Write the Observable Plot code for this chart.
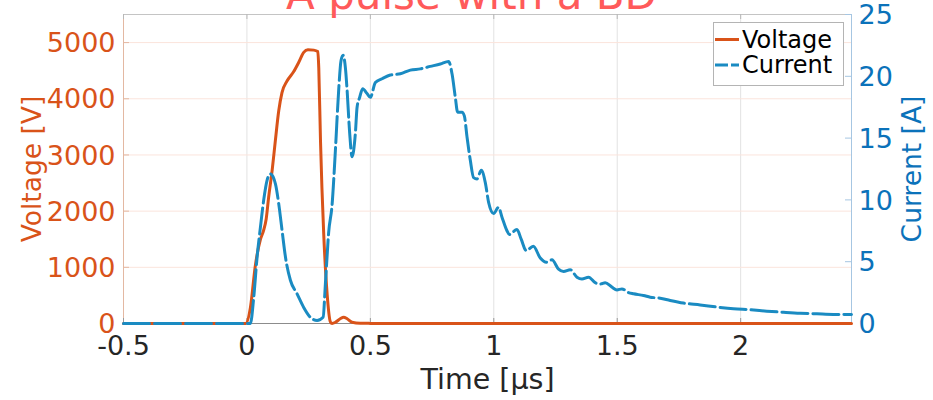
<!DOCTYPE html>
<html>
<head>
<meta charset="utf-8">
<script src="https://cdn.jsdelivr.net/npm/d3@7"></script>
<script src="https://cdn.jsdelivr.net/npm/@observablehq/plot@0.6"></script>
<style>
  html, body { margin: 0; padding: 0; background: #fff; }
  #wrap { position: relative; width: 933px; height: 400px; overflow: hidden; font-family: "DejaVu Sans", sans-serif; }
  #legend { position: absolute; left: 713px; top: 22px; }
</style>
</head>
<body>
<div id="wrap">
  <div id="chart"></div>
  <svg id="legend" width="131" height="64">
    <rect x="0.5" y="0.5" width="130" height="63" fill="#fff" stroke="#b4b4b4" stroke-width="1"></rect>
    <line x1="2" x2="26" y1="17.5" y2="17.5" stroke="#D95319" stroke-width="3"></line>
    <line x1="2" x2="26" y1="43" y2="43" stroke="#1a8bc2" stroke-width="3" stroke-dasharray="13,3"></line>
    <text x="29" y="25.5" font-size="24" font-family="DejaVu Sans, sans-serif" fill="#000">Voltage</text>
    <text x="29" y="51" font-size="24" font-family="DejaVu Sans, sans-serif" fill="#000">Current</text>
  </svg>
</div>
<script>
// ---- data ----
const xTicks = [-0.5, 0, 0.5, 1, 1.5, 2];
const xTickLabels = ["-0.5", "0", "0.5", "1", "1.5", "2"];
const vTicks = [0, 1000, 2000, 3000, 4000, 5000];
const iTicks = [0, 5, 10, 15, 20, 25];

// Voltage [V] vs time [us]
const timeV = [-0.5, -0.005, 0.014, 0.034, 0.055, 0.067, 0.078, 0.088, 0.102, 0.115, 0.129, 0.142, 0.163, 0.189, 0.210, 0.230, 0.247, 0.271, 0.287, 0.291, 0.298, 0.311, 0.325, 0.338, 0.345, 0.358, 0.378, 0.392, 0.406, 0.426, 0.459, 0.486, 0.50, 2.449];
const voltage = [0, 0, 280, 1030, 1500, 1650, 1860, 2250, 2720, 3250, 3790, 4110, 4320, 4480, 4650, 4826, 4874, 4866, 4840, 4550, 3250, 1600, 520, 30, 0, 20, 84, 112, 84, 23, 6, 5, 0, 0];

// Current [A] vs time [us]
const timeI = [-0.5, 0.0, 0.014, 0.0275, 0.0413, 0.0547, 0.068, 0.0818, 0.0951, 0.1154, 0.1287, 0.1425, 0.1559, 0.1761, 0.2032, 0.23, 0.2571, 0.2842, 0.3085, 0.3178, 0.3312, 0.3449, 0.3583, 0.3717, 0.3814, 0.3895, 0.3988, 0.4057, 0.4162, 0.4259, 0.4393, 0.4462, 0.4567, 0.4688, 0.4866, 0.50, 0.5202, 0.5474, 0.581, 0.6215, 0.6619, 0.7024, 0.7429, 0.7834, 0.817, 0.8308, 0.8441, 0.8534, 0.8713, 0.8806, 0.8915, 0.9049, 0.9182, 0.932, 0.9494, 0.9656, 0.979, 0.9992, 1.0194, 1.0332, 1.0534, 1.0628, 1.0939, 1.1113, 1.1316, 1.16, 1.1883, 1.2126, 1.2356, 1.2623, 1.2826, 1.3097, 1.3368, 1.3571, 1.3838, 1.4109, 1.4312, 1.4514, 1.4785, 1.4988, 1.519, 1.5457, 1.566, 1.6065, 1.6336, 1.674, 1.7146, 1.7684, 1.836, 1.9036, 1.9709, 2.0385, 2.106, 2.1733, 2.2409, 2.3085, 2.3757, 2.449];
const current = [0, 0, 0, 2.1, 5.4, 7.8, 10.0, 11.6, 12.1, 11.3, 9.7, 7.5, 5.4, 3.5, 2.4, 1.3, 0.5, 0.24, 0.5, 3.2, 7.4, 9.6, 14.0, 18.9, 21.3, 21.7, 20.7, 18.9, 15.4, 13.5, 15.4, 17.5, 18.3, 19.0, 18.6, 18.3, 19.5, 19.8, 20.1, 20.2, 20.5, 20.6, 20.8, 21.0, 21.2, 20.2, 18.3, 17.1, 17.1, 16.8, 15.1, 13.2, 11.8, 11.7, 12.4, 11.4, 9.8, 8.9, 9.4, 8.6, 7.5, 7.2, 7.6, 6.8, 5.9, 6.25, 5.3, 4.96, 5.15, 4.4, 4.2, 4.35, 3.75, 3.6, 3.75, 3.3, 3.2, 3.3, 2.94, 2.72, 2.8, 2.5, 2.4, 2.27, 2.13, 2.05, 1.86, 1.65, 1.5, 1.33, 1.19, 1.11, 1.0, 0.91, 0.83, 0.78, 0.73, 0.72];

// ---- chart ----
const orange = "#D95319", blue = "#1a8bc2", blueText = "#0b72ba";
const vMax = 5500, iMax = 25, k = vMax / iMax;
const vData = timeV.map((t, i) => ({t, v: voltage[i]}));
const iData = timeI.map((t, i) => ({t, c: current[i]}));
const innerW = 933 - 123 - 82, innerH = 400 - 14 - 77;

const chart = Plot.plot({
  width: 933, height: 400,
  marginLeft: 123, marginRight: 82, marginTop: 14, marginBottom: 77,
  style: {fontFamily: "'DejaVu Sans', sans-serif", background: "transparent", overflow: "visible"},
  x: {domain: [-0.5, 2.449]},
  y: {domain: [0, vMax]},
  marks: [
    Plot.gridX(xTicks.slice(1), {stroke: "#e2e2e2", strokeOpacity: 1}),
    Plot.gridY(vTicks.slice(1), {stroke: "#fbe4dc", strokeOpacity: 1}),
    Plot.ruleY([vMax], {stroke: "#c4c4c4"}),
    Plot.ruleY([0], {stroke: "#8c8c8c"}),
    Plot.ruleX([-0.5], {stroke: "#e3b8a2"}),
    Plot.ruleX([2.449], {stroke: "#a6c6e2"}),
    Plot.tickX(xTicks, {x: d => d, stroke: "#9a9a9a", insetTop: innerH - 5}),
    Plot.tickX(xTicks, {x: d => d, stroke: "#b8b8b8", insetBottom: innerH - 5}),
    Plot.tickY(vTicks, {y: d => d, stroke: "#e3b8a2", insetRight: innerW - 6}),
    Plot.tickY(iTicks, {y: d => d * k, stroke: "#a6c6e2", insetLeft: innerW - 6}),
    Plot.line(vData, {x: "t", y: "v", stroke: orange, strokeWidth: 3, curve: "monotone-x"}),
    Plot.line(iData, {x: "t", y: d => d.c * k, stroke: blue, strokeWidth: 3, curve: "monotone-x", strokeDasharray: "26,5"}),
    Plot.axisX(xTicks, {tickSize: 0, tickPadding: 12, tickFormat: d => xTickLabels[xTicks.indexOf(d)], fontSize: 27, color: "#262626", label: null}),
    Plot.axisY(vTicks, {anchor: "left", tickSize: 0, tickPadding: 8, tickFormat: d => String(d), fontSize: 27, color: orange, label: null, dy: 1}),
    Plot.axisY(iTicks.map(d => d * k), {anchor: "right", tickSize: 0, tickPadding: 7, tickFormat: d => String(Math.round(d / k)), fontSize: 27, color: blueText, label: null, dy: 1}),
    Plot.text(["Voltage [V]"], {text: d => d, frameAnchor: "left", textAnchor: "middle", lineAnchor: "middle", dx: -91, rotate: -90, fill: orange, fontSize: 26.5}),
    Plot.text(["Current [A]"], {text: d => d, frameAnchor: "right", textAnchor: "middle", lineAnchor: "middle", dx: 61, rotate: -90, fill: blueText, fontSize: 26.5}),
    Plot.text(["Time [μs]"], {text: d => d, frameAnchor: "bottom", lineAnchor: "middle", dy: 56, fill: "#262626", fontSize: 28.5}),
    Plot.text(["A pulse with a BD"], {text: d => d, frameAnchor: "top", lineAnchor: "middle", dx: -16, dy: -19, fill: "#ff5a5a", fontSize: 42})
  ]
});
document.getElementById("chart").appendChild(chart);
</script>
</body>
</html>
